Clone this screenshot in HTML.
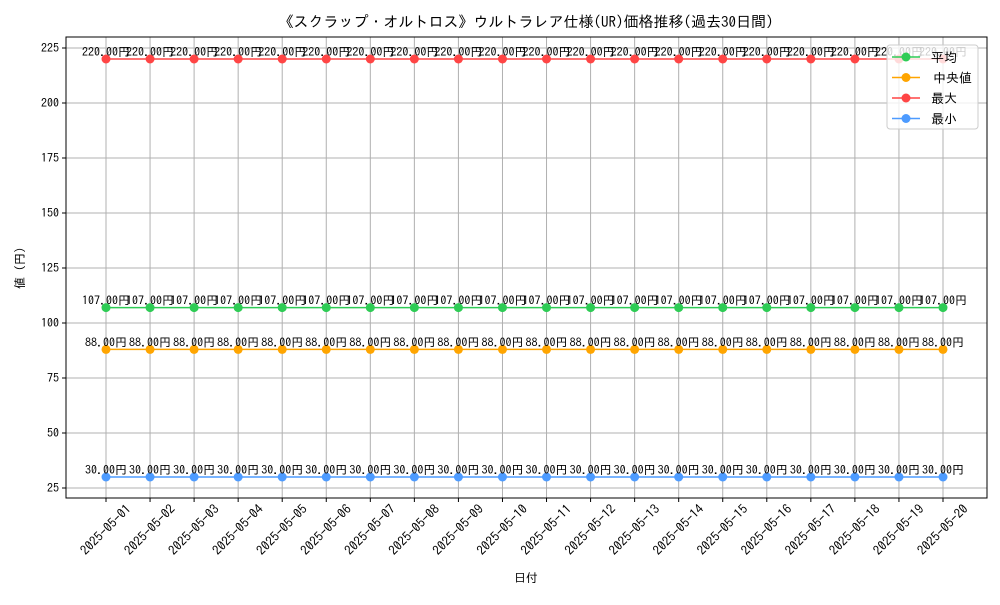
<!DOCTYPE html>
<html><head><meta charset="utf-8">
<style>
body{margin:0;background:#fff}
svg text{font-family:"IPAGothic","Liberation Sans",sans-serif;fill:#000}
</style></head>
<body>
<svg id="chart" width="1000" height="600" xmlns="http://www.w3.org/2000/svg">
<text x="526" y="27" font-size="15" text-anchor="middle">《スクラップ・オルトロス》ウルトラレア仕様(UR)価格推移(過去30日間)</text>
<g id="grid"></g>
<g id="series"></g>
<rect x="66" y="37" width="921" height="461" fill="none" stroke="#000" stroke-width="1"/>
<g id="axes"></g>
<text x="526" y="582" font-size="12" text-anchor="middle">日付</text>
<text x="24" y="268" font-size="12" text-anchor="middle" transform="rotate(-90 24 268)">値 (円)</text>
<g id="legend">
<rect x="887" y="45" width="91" height="84" rx="3" fill="#fff" fill-opacity="0.8" stroke="#ccc"/>
</g>
</svg>
<script>
const categories=["2025-05-01","2025-05-02","2025-05-03","2025-05-04","2025-05-05","2025-05-06","2025-05-07","2025-05-08","2025-05-09","2025-05-10","2025-05-11","2025-05-12","2025-05-13","2025-05-14","2025-05-15","2025-05-16","2025-05-17","2025-05-18","2025-05-19","2025-05-20"];
const avgValues=[107,107,107,107,107,107,107,107,107,107,107,107,107,107,107,107,107,107,107,107];
const medianValues=[88,88,88,88,88,88,88,88,88,88,88,88,88,88,88,88,88,88,88,88];
const maxValues=[220,220,220,220,220,220,220,220,220,220,220,220,220,220,220,220,220,220,220,220];
const minValues=[30,30,30,30,30,30,30,30,30,30,30,30,30,30,30,30,30,30,30,30];
const yTicks=[25,50,75,100,125,150,175,200,225];
const seriesNames=["平均","中央値","最大","最小"];

const NS="http://www.w3.org/2000/svg";
function xs(i){return 106+i*(943-106)/(categories.length-1);}
function ys(v){return 488-(v-25)*440/200;}
function mk(tag,attrs,parent){const e=document.createElementNS(NS,tag);for(const k in attrs)e.setAttribute(k,attrs[k]);parent.appendChild(e);return e;}
const grid=document.getElementById('grid'),axes=document.getElementById('axes'),ser=document.getElementById('series'),leg=document.getElementById('legend');
categories.forEach((c,i)=>{
  const x=xs(i);
  const g=mk('line',{x1:x,x2:x,y1:37,y2:498,stroke:'#b0b0b0','stroke-width':1},grid);
  
  
  const t=mk('line',{x1:x,x2:x,y1:498,y2:502,stroke:'#000'},axes);
  
  
  const cy=530;
  const tx=mk('text',{x:x,y:cy+4,'font-size':13,'text-anchor':'middle',transform:`rotate(-45 ${x} ${cy})`},axes);
  tx.textContent=c;
  
  
});
yTicks.forEach(v=>{
  const y=ys(v);
  const g=mk('line',{x1:66,x2:987,y1:y,y2:y,stroke:'#b0b0b0','stroke-width':1},grid);
  
  
  const t=mk('line',{x1:62,x2:66,y1:y,y2:y,stroke:'#000'},axes);
  
  
  const tx=mk('text',{x:59,y:y+4,'font-size':12,'text-anchor':'end'},axes);
  tx.textContent=v;
  
  
});
const colors=["#2ecc55","#ffa500","#ff4545","#4d9bff"];
[maxValues,avgValues,medianValues,minValues].forEach((vals,si)=>{
  const idx=[2,0,1,3][si];const col=colors[idx];
  const g=mk('g',{},ser);
  
  
  const pl=mk('polyline',{points:vals.map((v,i)=>xs(i)+','+ys(v)).join(' '),fill:'none',stroke:col,'stroke-width':1.5},g);
  
  
  vals.forEach((v,i)=>{
    const c=mk('circle',{cx:xs(i),cy:ys(v),r:4.5,fill:col},g);
    
    
    const t=mk('text',{x:xs(i),y:ys(v)-3,'font-size':12,'text-anchor':'middle'},g);
    t.textContent=v.toFixed(2)+'円';
    
    
  });
});
seriesNames.forEach((n,i)=>{
  const y=57+i*20.5;
  const g=mk('g',{},leg);
  
  
  mk('line',{x1:892,x2:920,y1:y,y2:y,stroke:colors[i],'stroke-width':1.5},g);
  mk('circle',{cx:906,cy:y,r:4.5,fill:colors[i]},g);
  const t=mk('text',{x:i==1?933:931,y:y+5,'font-size':13},g);
  t.textContent=n;
});
</script>
</body></html>
